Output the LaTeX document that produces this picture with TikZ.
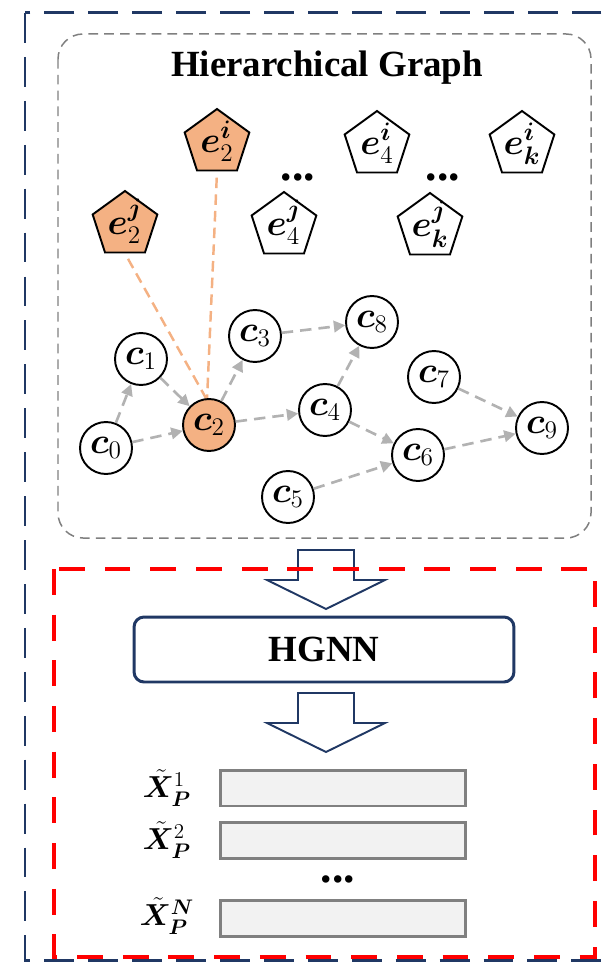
\documentclass[tikz,border=0pt]{standalone}
\usepackage{amsmath}
\usepackage{bm}
\usepackage[no-math]{fontspec}
\newfontfamily\timesfont{Liberation Serif}
\usetikzlibrary{arrows.meta,shapes.geometric,positioning}
\definecolor{framenavy}{RGB}{32,56,100}
\definecolor{hlorange}{RGB}{244,177,131}
\definecolor{edgegrey}{RGB}{178,178,178}
\definecolor{boxgrey}{RGB}{127,127,127}
\definecolor{barfill}{RGB}{242,242,242}
\definecolor{barline}{RGB}{128,128,128}
\newcommand{\ent}[2]{\raisebox{-2.5pt}{$\bm{e}_{#1}^{\bm{#2}}$}}
\newcommand{\xp}[1]{$\tilde{\bm{X}}_{\bm{P}}^{#1}$}
\tikzset{
  >={Triangle[length=6.5pt,width=6.5pt]},
  flow/.style={->, draw=edgegrey, line width=1.5pt, dash pattern=on 6.5pt off 4pt},
  link/.style={draw=hlorange, line width=1.4pt, dash pattern=on 6pt off 3.5pt, shorten <=3.5pt},
  cnode/.style={
    circle,
    draw=black,
    line width=1.1pt,
    fill=white,
    minimum size=1.04cm,
    inner sep=0pt,
    font=\fontsize{22}{26}\selectfont
  },
  hlcnode/.style={cnode, fill=hlorange},
  enode/.style={
    regular polygon,
    regular polygon sides=5,
    draw=black,
    line width=1.1pt,
    fill=white,
    minimum size=1.36cm,
    inner sep=0pt,
    text height=0.75em,
    text depth=0.2em,
    font=\fontsize{20}{24}\selectfont
  },
  hlenode/.style={enode, fill=hlorange},
  dotsnode/.style={font=\timesfont\bfseries\fontsize{26}{30}\selectfont, inner sep=0pt},
  titlenode/.style={font=\timesfont\bfseries\fontsize{21}{25}\selectfont},
  graphbox/.style={draw=boxgrey, line width=0.85pt, dash pattern=on 5.5pt off 3.5pt, rounded corners=0.5cm},
  outerbox/.style={draw=framenavy, line width=1.7pt, dash pattern=on 17pt off 8pt},
  redbox/.style={draw=red, line width=2.8pt, dash pattern=on 14.7pt off 11.3pt},
  modelbox/.style={
    draw=framenavy,
    line width=1.7pt,
    rounded corners=0.2cm,
    minimum width=7.6cm,
    minimum height=1.3cm,
    font=\timesfont\bfseries\fontsize{21}{25}\selectfont
  },
  bar/.style={draw=barline, fill=barfill, line width=1.7pt, minimum width=4.92cm, minimum height=0.72cm, inner sep=0pt},
  barlabel/.style={font=\fontsize{18}{22}\selectfont, inner sep=0pt},
  bigarrow/.style={draw=framenavy, line width=1.1pt, fill=white, line join=miter}
}

\begin{document}
\begin{tikzpicture}[x=0.02cm, y=-0.02cm]
  \useasboundingbox (0,0) rectangle (610,962);

  % frames
  \draw[outerbox] (25,13) rectangle (640,960);
  \draw[graphbox] (58,34) rectangle (591,538);
  \node[titlenode] (title) at (327,68) {Hierarchical Graph};

  % entity nodes
  \node[hlenode] (e2i) at (217,143) {\ent{2}{i}};
  \node[enode] (e4i) at (377,145) {\ent{4}{i}};
  \node[enode] (eki) at (522,145) {\ent{\bm{k}}{i}};
  \node[hlenode] (e2j) at (125,225) {\ent{2}{j}};
  \node[enode] (e4j) at (284,226) {\ent{4}{j}};
  \node[enode] (ekj) at (430,227) {\ent{\bm{k}}{j}};
  \node[dotsnode] (dotsa) at (298,177) {...};
  \node[dotsnode] (dotsb) at (443,177) {...};

  % concept nodes
  \node[cnode] (c0) at (106,448) {$\bm{c}_0$};
  \node[cnode] (c1) at (141,359) {$\bm{c}_1$};
  \node[cnode] (c3) at (255,336) {$\bm{c}_3$};
  \node[cnode] (c8) at (372,322) {$\bm{c}_8$};
  \node[cnode] (c4) at (325,410) {$\bm{c}_4$};
  \node[cnode] (c7) at (434,377) {$\bm{c}_7$};
  \node[cnode] (c9) at (542,428) {$\bm{c}_9$};
  \node[cnode] (c6) at (418,455) {$\bm{c}_6$};
  \node[cnode] (c5) at (288,497) {$\bm{c}_5$};

  \draw[link] (e2j.south) -- (207,400);
  \draw[link] (e2i.south) -- (207,400);
  \node[hlcnode] (c2) at (209,425) {$\bm{c}_2$};

  \draw[flow] (c0) -- (c1);
  \draw[flow] (c0) -- (c2);
  \draw[flow] (c1) -- (c2);
  \draw[flow] (c2) -- (c3);
  \draw[flow] (c2) -- (c4);
  \draw[flow] (c3) -- (c8);
  \draw[flow] (c4) -- (c8);
  \draw[flow] (c4) -- (c6);
  \draw[flow] (c5) -- (c6);
  \draw[flow] (c6) -- (c9);
  \draw[flow] (c7) -- (c9);

  % model part
  \draw[bigarrow] (298,550) -- (354,550) -- (354,580) -- (385,580) -- (326,609) -- (267,580) -- (298,580) -- cycle;
  \node[modelbox] (hgnn) at (324,649.5) {HGNN};
  \draw[bigarrow] (298,693) -- (354,693) -- (354,723) -- (385,723) -- (326,752) -- (267,723) -- (298,723) -- cycle;

  \node[bar] (bar1) at (343,788) {};
  \node[bar] (bar2) at (343,840) {};
  \node[bar] (barN) at (343,918) {};
  \node[barlabel] (x1) at (167,788) {\xp{1}};
  \node[barlabel] (x2) at (167,840) {\xp{2}};
  \node[barlabel] (xN) at (167,916) {\xp{\bm{N}}};
  \node[dotsnode] (dotsc) at (338,879) {...};

  \draw[redbox] (54,569) rectangle (595,957);
\end{tikzpicture}
\end{document}
